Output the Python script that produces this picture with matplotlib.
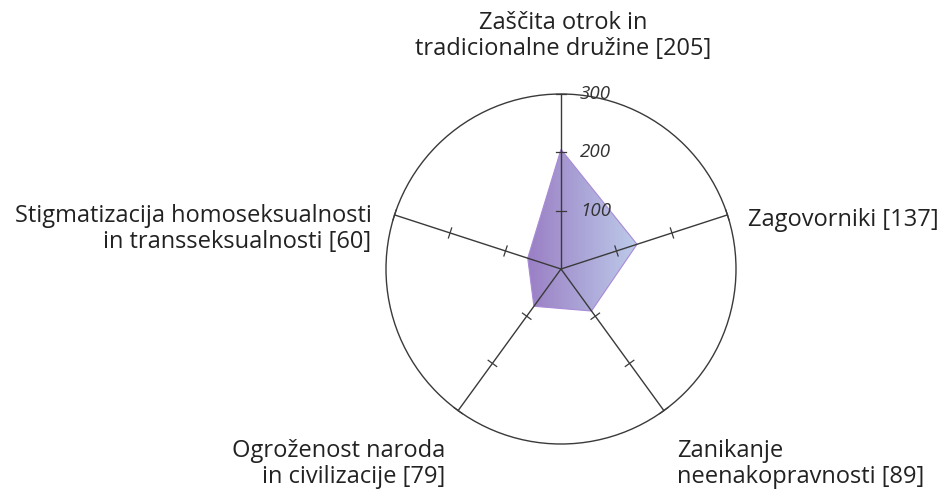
import matplotlib
matplotlib.use("Agg")
import matplotlib.pyplot as plt
import numpy as np
from matplotlib.patches import Polygon, Circle
from matplotlib.colors import LinearSegmentedColormap

# data
categories = [
    "Zaščita otrok in\ntradicionalne družine",
    "Zagovorniki",
    "Zanikanje\nneenakopravnosti",
    "Ogroženost naroda\nin civilizacije",
    "Stigmatizacija homoseksualnosti\nin transseksualnosti",
]
values = [205, 137, 89, 79, 60]
r_max = 300
r_ticks = [100, 200, 300]

plt.rcParams["font.family"] = ["Open Sans", "DejaVu Sans"]

W, H, DPI = 947, 494, 100
fig = plt.figure(figsize=(W / DPI, H / DPI), dpi=DPI)

# axes placed so the chart centre sits at (561, 269) px with radius 175 px
cx, cy, R = 561, 269, 175
half = 200
ax = fig.add_axes([(cx - half) / W, (H - cy - half) / H, 2 * half / W, 2 * half / H])
lim = r_max * half / R
ax.set_xlim(-lim, lim)
ax.set_ylim(-lim, lim)
ax.set_aspect("equal")
ax.axis("off")

n = len(values)
angles = np.pi / 2 - np.arange(n) * 2 * np.pi / n
dirs = np.column_stack([np.cos(angles), np.sin(angles)])

line_col = "#3a3a3a"
ax.add_patch(Circle((0, 0), r_max, fill=False, ec=line_col, lw=1.0, zorder=3))

tick_half = 9
for d in dirs:
    ax.plot([0, d[0] * r_max], [0, d[1] * r_max], color=line_col, lw=1.0, zorder=3)
    perp = np.array([-d[1], d[0]])
    for t in r_ticks:
        p = d * t
        ax.plot([p[0] - perp[0] * tick_half, p[0] + perp[0] * tick_half],
                [p[1] - perp[1] * tick_half, p[1] + perp[1] * tick_half],
                color=line_col, lw=0.9, zorder=3)

# filled polygon with horizontal gradient
pts = dirs * np.array(values)[:, None]
poly = Polygon(pts, closed=True, fc="none", ec="#a88ad6", lw=0.8, zorder=2)
ax.add_patch(poly)
cmap = LinearSegmentedColormap.from_list("grad", ["#9578c2", "#b9c9e9"])
xmin, xmax = pts[:, 0].min(), pts[:, 0].max()
ymin, ymax = pts[:, 1].min(), pts[:, 1].max()
grad = np.linspace(0, 1, 256)[None, :]
im = ax.imshow(grad, cmap=cmap, extent=[xmin, xmax, ymin, ymax], aspect="auto",
               origin="lower", zorder=1, alpha=0.95)
im.set_clip_path(poly)
ax.set_xlim(-lim, lim)
ax.set_ylim(-lim, lim)

# radial tick labels on top axis
for t in r_ticks:
    ax.annotate(str(t), (0, t), xytext=(19, 0), textcoords="offset pixels",
                fontsize=13.5, style="italic", color="#333333",
                ha="left", va="center", zorder=4)

# category labels, offsets in pixels from the end of each spoke
# (baseline alignment is on the last line)
label_fs = 17
txt_col = "#222222"
ls = 1.1
labels = [f"{c} [{v}]" for c, v in zip(categories, values)]
offsets = [(2, 39), (21, -11), (13, -72), (-13, -72), (-23, -33)]
aligns = ["center", "left", "left", "right", "right"]
for d, lab, off, ha in zip(dirs, labels, offsets, aligns):
    ax.annotate(lab, tuple(d * r_max), xytext=off, textcoords="offset pixels",
                ha=ha, va="baseline", fontsize=label_fs, color=txt_col,
                linespacing=ls, multialignment=ha, annotation_clip=False)

fig.savefig("out.png", dpi=DPI, facecolor="white")
